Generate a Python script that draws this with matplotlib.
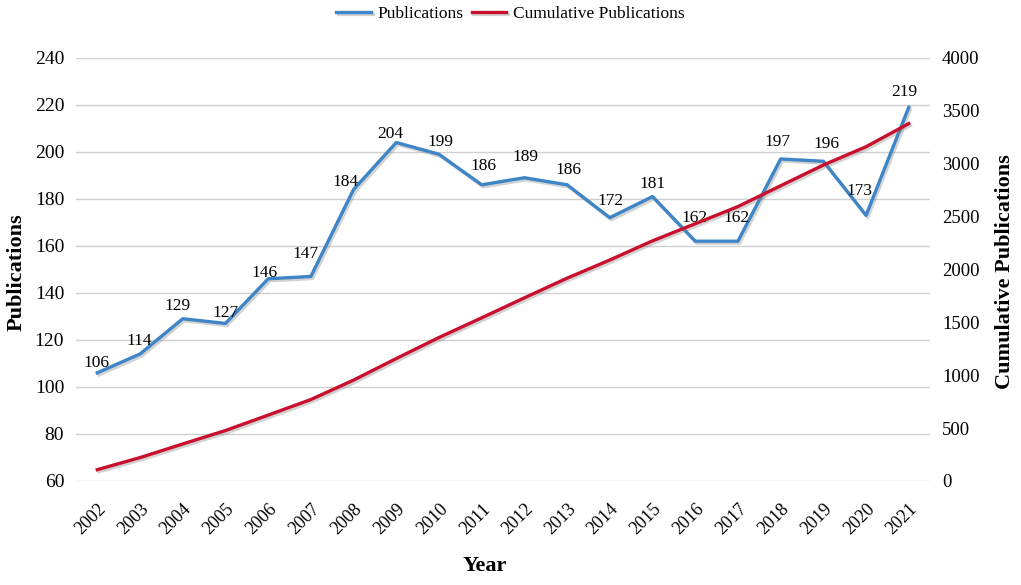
import matplotlib.pyplot as plt
import matplotlib.patheffects as pe

plt.rcParams['font.family'] = ['Liberation Serif', 'DejaVu Serif']

# 年份与发文量
years = [str(y) for y in range(2002, 2022)]
publications = [106, 114, 129, 127, 146, 147, 184, 204, 199, 186,
                189, 186, 172, 181, 162, 162, 197, 196, 173, 219]
cumulative = [106, 220, 349, 476, 622, 769, 953, 1157, 1356, 1542,
              1731, 1917, 2089, 2270, 2432, 2594, 2791, 2987, 3160, 3379]

# 数据标签偏移(像素)
label_dx = [-1, -1, -5, 0, -4, -5, -8, -6, 1, 2, 1, 1, 1, 0, -1, -1, -3, 3, -7, -4]
label_dy = [10, 13, 13, 10, 6, 22, 8, 9, 12, 19, 21, 15, 17, 13, 23, 23, 17, 17, 24, 15]

blue = '#3d85c6'
red = '#c8102e'
shadow = [pe.SimpleLineShadow(offset=(1.2, -1.5), shadow_color='#808080', alpha=0.35), pe.Normal()]

fig = plt.figure(figsize=(10.21, 5.85), dpi=100)
ax = fig.add_axes([0.0744, 0.178, 0.8366, 0.723])
ax2 = ax.twinx()

x = list(range(len(years)))
l1, = ax.plot(x, publications, color=blue, lw=2.4, path_effects=shadow, label='Publications', zorder=3)
l2, = ax2.plot(x, cumulative, color=red, lw=2.4, path_effects=shadow, label='Cumulative Publications', zorder=3)

for xi, v, dx, dy in zip(x, publications, label_dx, label_dy):
    ax.annotate(str(v), xy=(xi, v), xytext=(dx, dy), textcoords='offset pixels',
                ha='center', va='center', fontsize=12.5)

ax.set_xlim(-0.5, len(years) - 0.5)
ax.set_ylim(60, 240)
ax.set_yticks(range(60, 241, 20))
ax2.set_ylim(0, 4000)
ax2.set_yticks(range(0, 4001, 500))
ax.set_xticks(x)
ax.set_xticklabels(years, rotation=45, ha='right', va='top', rotation_mode='anchor')

ax.grid(axis='y', color='#d0d0d0', lw=1)
ax.set_axisbelow(True)
for a in (ax, ax2):
    for s in a.spines.values():
        s.set_visible(False)
    a.tick_params(length=0, labelsize=14)
ax.tick_params(axis='x', labelsize=13, pad=14)
ax.tick_params(axis='y', pad=8.5)
ax2.tick_params(axis='y', pad=8.5, labelsize=13.5)
ax2.set_zorder(ax.get_zorder() + 1)
ax2.patch.set_visible(False)

fig.text(17 / 1021, 1 - 272 / 585, 'Publications', rotation=90, ha='center', va='center',
         fontsize=16, fontweight='bold')
fig.text(1005 / 1021, 1 - 272 / 585, 'Cumulative Publications', rotation=90, ha='center', va='center',
         fontsize=16, fontweight='bold')
fig.text(485 / 1021, 1 - 566 / 585, 'Year', ha='center', va='center', fontsize=16, fontweight='bold')

fig.legend(handles=[l1, l2], loc='upper center', bbox_to_anchor=(0.5, 1.016), ncol=2,
           frameon=False, fontsize=12.5, handlelength=2.0, columnspacing=0.45, handletextpad=0.4)

fig.savefig('out.png', dpi=100)
